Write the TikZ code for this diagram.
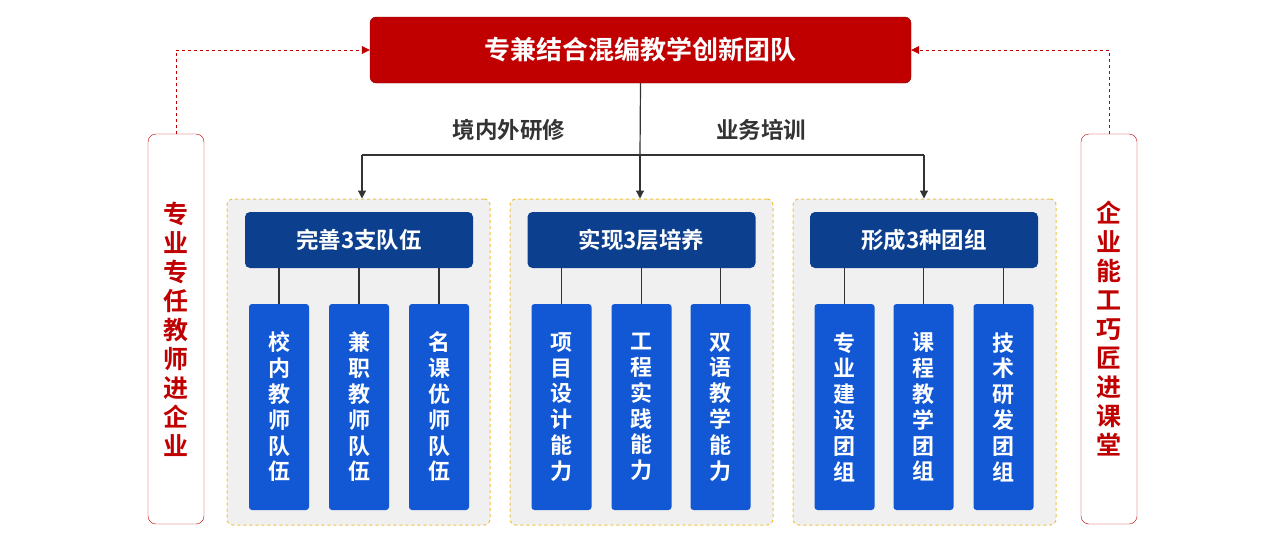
\documentclass[tikz,border=0pt]{standalone}
\usepackage{fontspec}
\newfontfamily\cjk{Noto Sans CJK SC}[BoldFont={Noto Sans CJK SC Bold}]
\usetikzlibrary{arrows.meta}
\definecolor{tred}{HTML}{C00000}
\definecolor{hblue}{HTML}{0D3F8F}
\definecolor{cblue}{HTML}{1257D4}
\definecolor{pgray}{HTML}{F0F0F0}
\definecolor{pyel}{HTML}{F0C040}
\definecolor{lgray}{HTML}{333333}
\begin{document}
\begin{tikzpicture}[x=1pt,y=-1pt,
  title/.style={draw=tred!70!black,fill=tred,rounded corners=6pt,text=white,font=\cjk\bfseries\fontsize{26}{30}\selectfont},
  side/.style={draw=tred,fill=white,rounded corners=8pt,text=tred,align=center,font=\cjk\bfseries\fontsize{25}{29}\selectfont},
  panel/.style={draw=pyel,dashed,fill=pgray,rounded corners=6pt,line width=1pt},
  head/.style={fill=hblue,rounded corners=5pt,text=white,font=\cjk\bfseries\fontsize{22.5}{26}\selectfont},
  col/.style={fill=cblue,rounded corners=3pt,text=white,align=center,font=\cjk\bfseries\fontsize{22}{25.8}\selectfont},
  lab/.style={text=lgray,font=\cjk\bfseries\fontsize{22.5}{26}\selectfont},
  conn/.style={draw=lgray,line width=1.2pt},
  arr/.style={conn,-{Triangle[length=8pt,width=8pt]}},
  darr/.style={draw=tred,dashed,line width=0.8pt,-{Triangle[length=8pt,width=8pt]}}]
\useasboundingbox (0,0) rectangle (1280,544);
\node[title,minimum width=541pt,minimum height=66pt] (T) at (640.5,50) {专兼结合混编教学创新团队};
\node[side,minimum width=56pt,minimum height=390pt] (L) at (176,329) {专\\业\\专\\任\\教\\师\\进\\企\\业};
\node[side,minimum width=56pt,minimum height=390pt] (R) at (1109,329) {企\\业\\能\\工\\巧\\匠\\进\\课\\堂};
\draw[darr] (L.north) |- (T.west);
\draw[darr] (R.north) |- (T.east);
\coordinate (J) at (640,155);
\coordinate (J1) at (362,155);
\coordinate (J3) at (924,155);
\draw[conn] (T.south) -- (J);
\draw[conn] (J1) -- (J3);
\node[lab] (l1) at (509,130) {境内外研修};
\node[lab] (l2) at (761,130) {业务培训};
\foreach \i/\px/\hx/\htxt/\xa/\xb/\xc/\ta/\tb/\tc in {
 1/358.5/359/完善3支队伍/279/359/439/校\\内\\教\\师\\队\\伍/兼\\职\\教\\师\\队\\伍/名\\课\\优\\师\\队\\伍,
 2/641.5/641.5/实现3层培养/561.5/641.5/720.5/项\\目\\设\\计\\能\\力/工\\程\\实\\践\\能\\力/双\\语\\教\\学\\能\\力,
 3/924.5/924/形成3种团组/844.5/923.5/1003.5/专\\业\\建\\设\\团\\组/课\\程\\教\\学\\团\\组/技\\术\\研\\发\\团\\组}{
  \node[panel,minimum width=263pt,minimum height=326pt] (P\i) at (\px,362) {};
  \node[head,minimum width=228pt,minimum height=56pt] (H\i) at (\hx,240) {\htxt};
  \node[col,minimum width=60pt,minimum height=206pt] (Ca\i) at (\xa,407) {\ta};
  \node[col,minimum width=60pt,minimum height=206pt] (Cb\i) at (\xb,407) {\tb};
  \node[col,minimum width=60pt,minimum height=206pt] (Cc\i) at (\xc,407) {\tc};
  \draw[conn] (H\i.south -| Ca\i) -- (Ca\i.north);
  \draw[conn] (H\i.south -| Cb\i) -- (Cb\i.north);
  \draw[conn] (H\i.south -| Cc\i) -- (Cc\i.north);
}
\draw[arr] (J1) -- (P1.north -| J1);
\draw[arr] (J) -- (P2.north -| J);
\draw[arr] (J3) -- (P3.north -| J3);
\end{tikzpicture}
\end{document}
